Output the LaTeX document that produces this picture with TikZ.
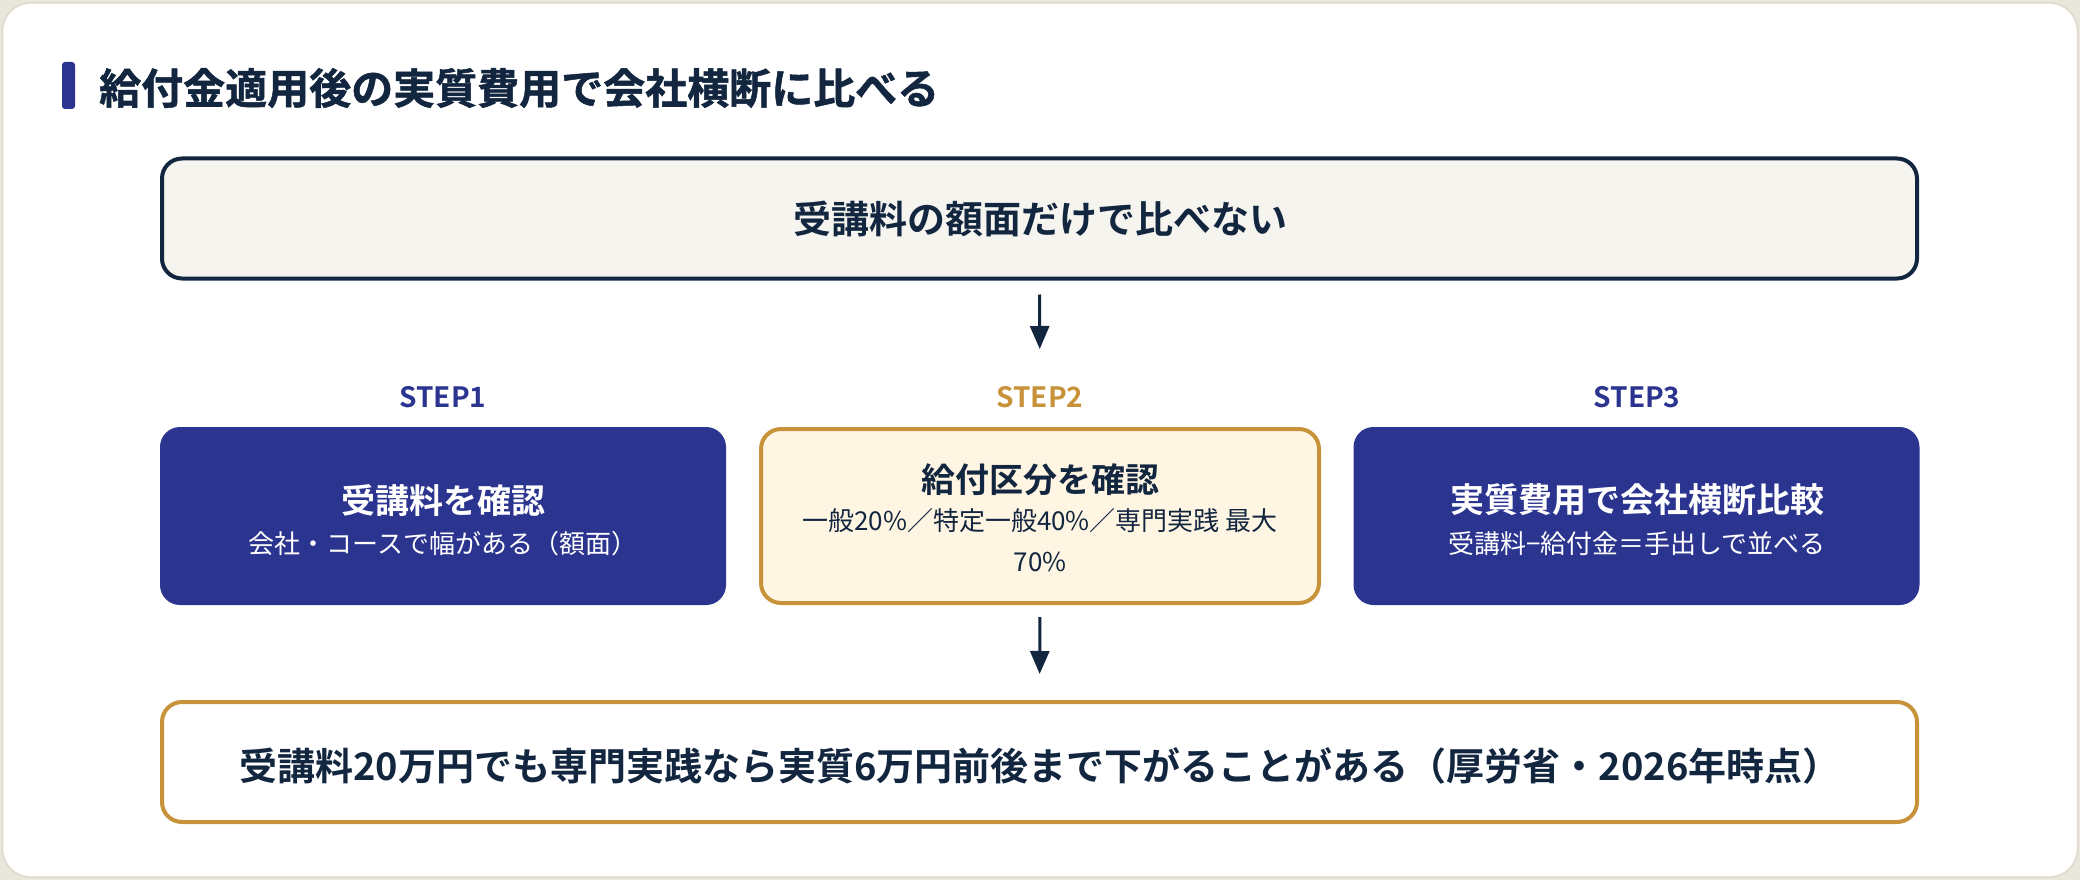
\documentclass[tikz,border=0pt]{standalone}
\usepackage{fontspec}
\setmainfont{Noto Sans CJK JP}[BoldFont={Noto Sans CJK JP Bold}]
\newfontfamily\heavytitle{Noto Sans CJK JP Bold}[FakeBold=1.2]
\usetikzlibrary{arrows.meta}
\definecolor{navy}{HTML}{12263F}
\definecolor{blueA}{HTML}{2B3590}
\definecolor{gold}{HTML}{C8923A}
\definecolor{cream}{HTML}{FFF5E3}
\definecolor{paper}{HTML}{F5F4EF}
\definecolor{pagebg}{HTML}{E9E6DB}
\definecolor{cardline}{HTML}{DEDACB}
\tikzset{
  boxbase/.style={rectangle, rounded corners=20pt, line width=4pt, inner sep=0pt},
  topbox/.style={boxbase, draw=navy, fill=paper, minimum width=1755pt, minimum height=120pt},
  stepblue/.style={boxbase, fill=blueA, minimum width=566pt, minimum height=178pt},
  stepgold/.style={boxbase, draw=gold, fill=cream, minimum width=558pt, minimum height=174pt},
  botbox/.style={boxbase, draw=gold, fill=white, minimum width=1755pt, minimum height=120pt},
  bigtxt/.style={font=\bfseries\fontsize{38}{44}\selectfont, text=navy, inner sep=0pt},
  hd/.style={font=\bfseries\fontsize{34}{40}\selectfont, inner sep=0pt},
  sub/.style={font=\fontsize{26}{30}\selectfont, inner sep=0pt},
  steplab/.style={font=\bfseries\fontsize{28}{32}\selectfont, inner sep=0pt},
  arr/.style={draw=navy, line width=3pt, -{Triangle[length=23pt,width=19pt]}},
}
\begin{document}
\begin{tikzpicture}[x=1pt,y=-1pt]
\useasboundingbox (0,0) rectangle (2080,880);
\fill[pagebg] (0,0) rectangle (2080,880);
\draw[fill=white, draw=cardline, line width=1.5pt, rounded corners=28pt] (2.5,3) rectangle (2077.5,877);
\fill[blueA, rounded corners=3pt] (62,62) rectangle (75,109);
\node[anchor=west, font=\heavytitle\fontsize{42}{50}\selectfont, text=navy, inner sep=0pt] (title) at (99,88) {給付金適用後の実質費用で会社横断に比べる};

\node[topbox] (top) at (1039.5,218.5) {};
\node[bigtxt] (toptxt) at (1040,219) {受講料の額面だけで比べない};

\node[steplab, text=blueA] (l1) at (443,397) {STEP1};
\node[steplab, text=gold] (l2) at (1040,397) {STEP2};
\node[steplab, text=blueA] (l3) at (1637,397) {STEP3};

\node[stepblue] (b1) at (443,516) {};
\node[stepgold] (b2) at (1040,516) {};
\node[stepblue] (b3) at (1636.5,516) {};

\node[hd, text=white] (b1h) at (443,500) {受講料を確認};
\node[sub, text=white] (b1s) at (443,544) {会社・コースで幅がある（額面）};
\node[hd, text=navy] (b2h) at (1040,480) {給付区分を確認};
\node[sub, text=navy] (b2s) at (1040,521) {一般20\%／特定一般40\%／専門実践 最大};
\node[sub, text=navy] (b2t) at (1040,562) {70\%};
\node[hd, text=white] (b3h) at (1637,500) {実質費用で会社横断比較};
\node[sub, text=white] (b3s) at (1637,544) {受講料−給付金＝手出しで並べる};

\node[botbox] (bot) at (1039.5,762) {};
\node[bigtxt] (bottxt) at (1040,766) {受講料20万円でも専門実践なら実質6万円前後まで下がることがある（厚労省・2026年時点）};

\draw[arr, shorten <=14pt, shorten >=78pt] (top.south) -- (b2.north);
\draw[arr, shorten <=12pt, shorten >=26pt] (b2.south) -- (bot.north);
\end{tikzpicture}
\end{document}
